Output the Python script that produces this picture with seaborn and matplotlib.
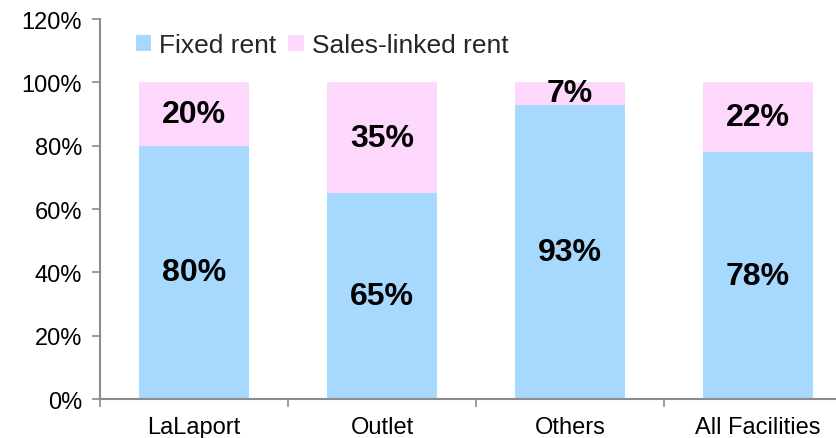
import matplotlib
matplotlib.use("Agg")
import matplotlib.pyplot as plt
import seaborn as sns
import pandas as pd
from matplotlib.ticker import FixedLocator

# data
facilities = ["LaLaport", "Outlet", "Others", "All Facilities"]
fixed_rent = [80, 65, 93, 78]
sales_linked = [20, 35, 7, 22]

blue = "#a6d9fd"
pink = "#fed7fd"
axis_grey = "#8c8c8c"

sns.set_theme(style="white")
plt.rcParams["font.family"] = ["Liberation Sans", "DejaVu Sans"]

df = pd.DataFrame({"facility": facilities, "fixed": fixed_rent,
                   "sales": sales_linked})
df["total"] = df["fixed"] + df["sales"]

fig = plt.figure(figsize=(8.37, 4.39), dpi=100)
ax = fig.add_axes([0.1195, 0.0888, 0.8805, 0.8656])

sns.barplot(data=df, x="facility", y="total", color=pink, width=0.59,
            saturation=1, ax=ax, label="Sales-linked rent", linewidth=0)
sns.barplot(data=df, x="facility", y="fixed", color=blue, width=0.59,
            saturation=1, ax=ax, label="Fixed rent", linewidth=0)

# segment labels
for i, row in df.iterrows():
    ax.text(i, row["fixed"] / 2, f"{row['fixed']}%", ha="center", va="center",
            fontsize=23, fontweight="bold", color="black")
    ax.text(i, row["fixed"] + row["sales"] / 2, f"{row['sales']}%",
            ha="center", va="center", fontsize=23, fontweight="bold",
            color="black")

ax.set_ylim(0, 120)
ax.set_xlim(-0.5, 3.42)
ax.set_yticks(range(0, 121, 20))
ax.set_yticklabels([f"{v}%" for v in range(0, 121, 20)], fontsize=17)
ax.set_xticklabels(facilities, fontsize=17)
ax.set_xlabel("")
ax.set_ylabel("")

ax.xaxis.set_minor_locator(FixedLocator([-0.5, 0.5, 1.5, 2.5]))
ax.tick_params(axis="x", which="major", length=0, pad=12, colors="black")
ax.tick_params(axis="x", which="minor", length=6, width=1.2,
               color=axis_grey, direction="out", bottom=True)
ax.tick_params(axis="y", length=6, width=1.2, color=axis_grey,
               direction="out", left=True, labelcolor="black", pad=7)

for side in ["top", "right"]:
    ax.spines[side].set_visible(False)
for side in ["left", "bottom"]:
    ax.spines[side].set_color(axis_grey)
    ax.spines[side].set_linewidth(1.5)

handles, labels = ax.get_legend_handles_labels()
order = [labels.index("Fixed rent"), labels.index("Sales-linked rent")]
ax.legend([handles[k] for k in order], [labels[k] for k in order],
          loc="upper left", bbox_to_anchor=(0.016, 1.025), ncol=2,
          frameon=False, fontsize=19, handlelength=0.6, handleheight=0.6,
          handletextpad=0.3, columnspacing=0.45)

fig.savefig("out.png", dpi=100)
